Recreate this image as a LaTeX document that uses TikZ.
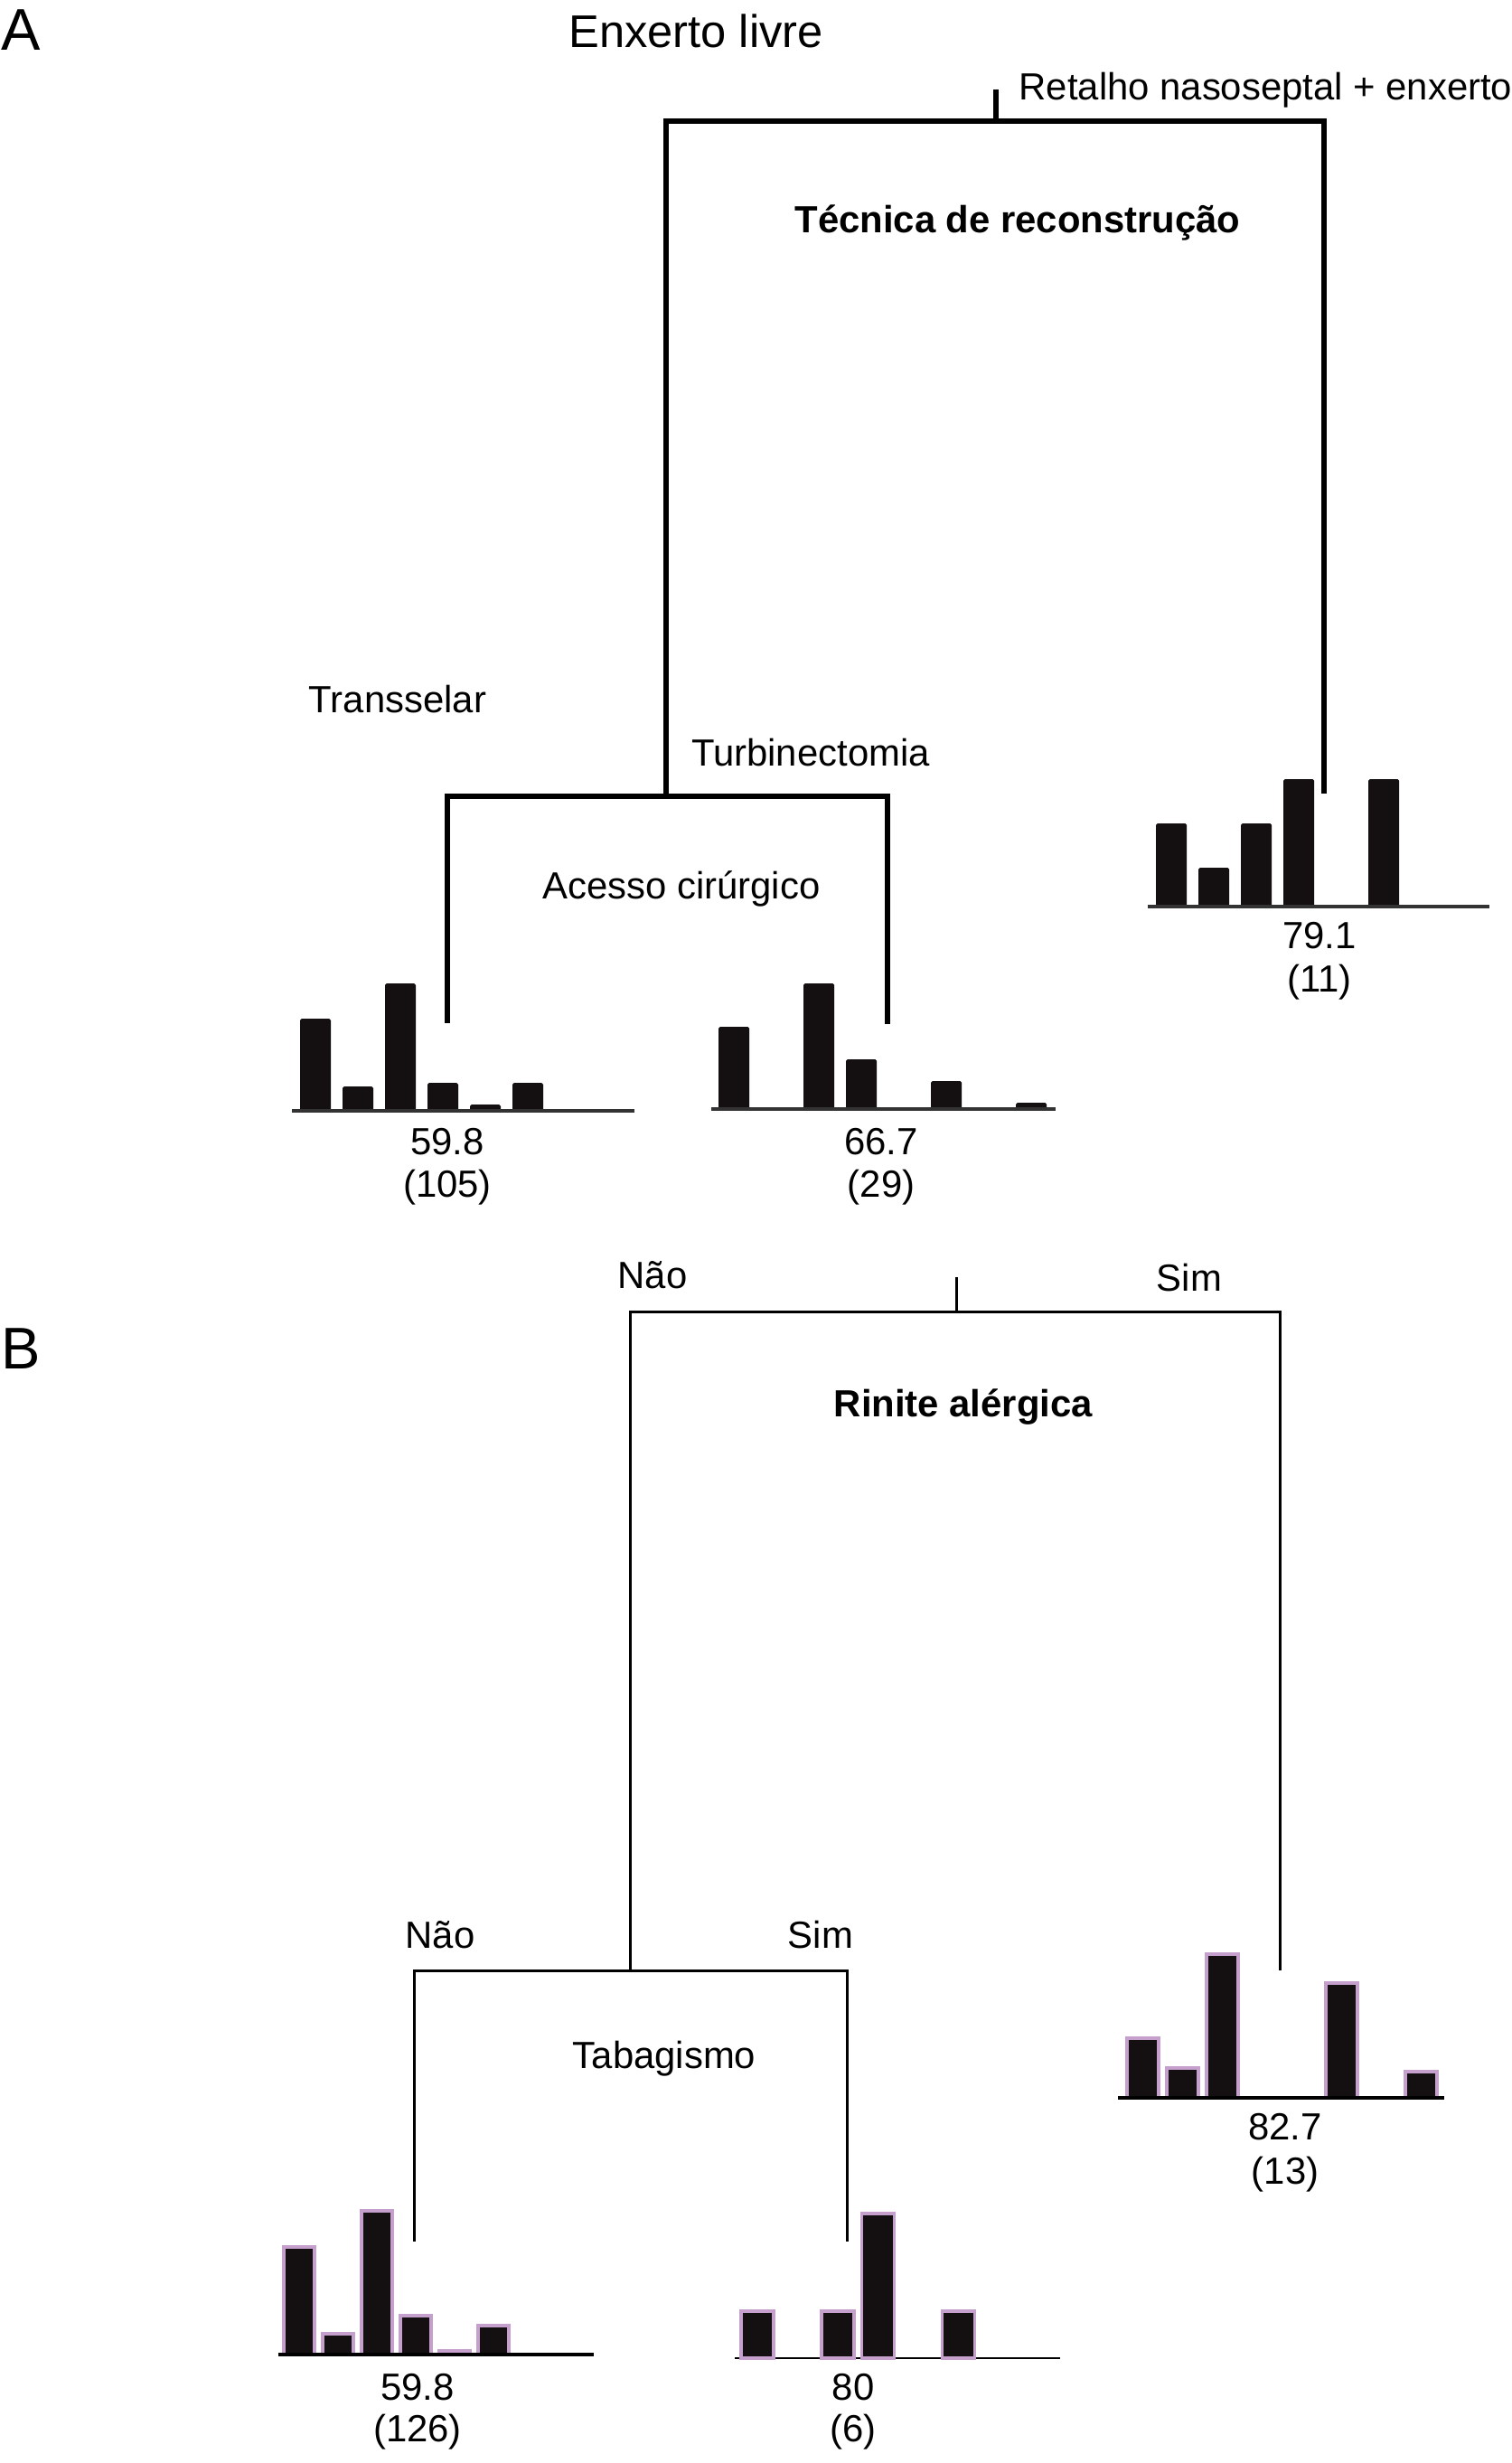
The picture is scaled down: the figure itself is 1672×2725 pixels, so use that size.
\documentclass[tikz,border=0pt]{standalone}
\usepackage{fontspec}
\setmainfont{Liberation Sans}
\usetikzlibrary{calc}
\definecolor{barink}{RGB}{20,15,16}
\definecolor{barrim}{RGB}{198,160,204}

\begin{document}
\begin{tikzpicture}[x=0.01cm, y=-0.01cm,
    lbl/.style={font=\fontsize{11.9pt}{14pt}\selectfont, anchor=base, inner sep=0pt},
    big/.style={font=\fontsize{18.5pt}{22pt}\selectfont},
    treeA/.style={line width=1.7pt},
    treeB/.style={line width=0.85pt},
    baseA/.style={line width=1.1pt, black!80},
    baseB/.style={line width=1.1pt},
    barA/.style={fill=barink, rounded corners=0.5pt},
    barB/.style={fill=barink, draw=barrim, line width=0.9pt}]
    \useasboundingbox (0,0) rectangle (1672,2725);

    % A
    \node[lbl, big] (labA) at (23,56) {A};
    \node[lbl, font=\fontsize{14.4pt}{18pt}\selectfont] (freeA) at (770,53) {Enxerto livre};
    \node[lbl, anchor=base west] (flapA) at (1127,111) {Retalho nasoseptal + enxerto};
    \node[lbl] (techA) at (1126,258) {\textbf{Técnica de reconstrução}};
    \node[lbl] (transA) at (440,788) {Transselar};
    \node[lbl] (turbA) at (897,847) {Turbinectomia};
    \node[lbl] (accA) at (754,994) {Acesso cirúrgico};

    \coordinate (stemA) at (1102,99);
    \coordinate (splitA) at (1102,134);
    \coordinate (splitA1) at (737,881);
    \coordinate (tipA1) at (495,1132);
    \coordinate (tipA2) at (982,1133);
    \coordinate (tipA3) at (1465,878);
    \draw[treeA] (stemA) -- (splitA);
    \draw[treeA] (tipA3) |- (splitA) -| (splitA1);
    \draw[treeA] (tipA2) |- (splitA1) -| (tipA1);

    \coordinate (hA1) at (323,1229);
    \coordinate (hA2) at (787,1227);
    \coordinate (hA3) at (1270,1003);
    \foreach \s/\h in {0/102,1/27,2/141,3/31,4/7,5/31}
        \fill[barA] ($(hA1)+(9+47*\s,0)$) rectangle ++(34,-\h);
    \foreach \s/\h in {0/91,2/139,3/55,5/31,7/7}
        \fill[barA] ($(hA2)+(8+47*\s,0)$) rectangle ++(34,-\h);
    \foreach \s/\h in {0/92,1/43,2/92,3/141,5/141}
        \fill[barA] ($(hA3)+(9+47*\s,0)$) rectangle ++(34,-\h);
    \draw[baseA] (hA1) -- ++(379,0);
    \draw[baseA] (hA2) -- ++(381,0);
    \draw[baseA] (hA3) -- ++(378,0);

    \node[lbl] (mA1) at (495,1277) {59.8};
    \node[lbl] (nA1) at (495,1324) {(105)};
    \node[lbl] (mA2) at (975,1277) {66.7};
    \node[lbl] (nA2) at (975,1324) {(29)};
    \node[lbl] (mA3) at (1460,1049) {79.1};
    \node[lbl] (nA3) at (1460,1097) {(11)};

    % B
    \node[lbl, big] (labB) at (23,1514) {B};
    \node[lbl] (noB) at (722,1425) {Não};
    \node[lbl] (yesB) at (1316,1428) {Sim};
    \node[lbl] (rhinB) at (1066,1567) {\textbf{Rinite alérgica}};
    \node[lbl] (noB1) at (487,2155) {Não};
    \node[lbl] (yesB1) at (908,2155) {Sim};
    \node[lbl] (smokB) at (735,2288) {Tabagismo};

    \coordinate (stemB) at (1058,1413);
    \coordinate (splitB) at (1058,1451);
    \coordinate (splitB1) at (697,2180);
    \coordinate (tipB1) at (458,2480);
    \coordinate (tipB2) at (937,2480);
    \coordinate (tipB3) at (1416,2180);
    \draw[treeB] (stemB) -- (splitB);
    \draw[treeB] (tipB3) |- (splitB) -| (splitB1);
    \draw[treeB] (tipB2) |- (splitB1) -| (tipB1);

    \coordinate (hB1) at (308,2605);
    \coordinate (hB2) at (813,2609);
    \coordinate (hB3) at (1237,2321);
    \draw[line width=0.45pt] (hB2) -- ++(360,0);
    \foreach \s/\h in {0/119,1/23,2/159,3/43,4/4,5/32}
        \filldraw[barB] ($(hB1)+(6+43*\s,0)$) rectangle ++(34,-\h);
    \foreach \s/\h in {0/52,2/52,3/160,5/52}
        \filldraw[barB] ($(hB2)+(7+44.5*\s,0)$) rectangle ++(36,-\h);
    \foreach \s/\h in {0/66,1/33,2/159,5/127,7/29}
        \filldraw[barB] ($(hB3)+(10+44*\s,0)$) rectangle ++(35,-\h);
    \draw[baseB] (hB1) -- ++(349,0);
    \draw[baseB] (hB3) -- ++(361,0);

    \node[lbl] (mB1) at (462,2655) {59.8};
    \node[lbl] (nB1) at (462,2701) {(126)};
    \node[lbl] (mB2) at (944,2655) {80};
    \node[lbl] (nB2) at (944,2701) {(6)};
    \node[lbl] (mB3) at (1422,2367) {82.7};
    \node[lbl] (nB3) at (1422,2416) {(13)};
\end{tikzpicture}
\end{document}
